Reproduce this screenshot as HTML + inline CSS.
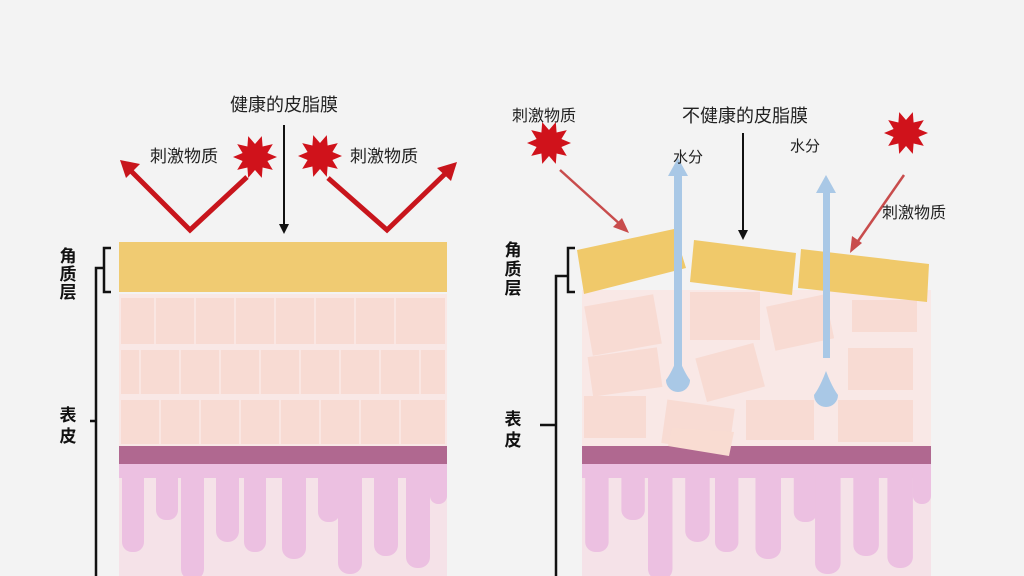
<!DOCTYPE html>
<html><head><meta charset="utf-8"><style>
html,body{margin:0;padding:0;background:#f3f3f3;}
svg{display:block;}
text{font-family:"Liberation Sans","Noto Sans CJK SC",sans-serif;}
</style></head><body>
<svg width="1024" height="576" viewBox="0 0 1024 576" xmlns="http://www.w3.org/2000/svg">
<defs>
<polygon id="star" points="22,0 12.4,4 17.8,12.9 7.6,10.5 6.8,20.9 0,13 -6.8,20.9 -7.6,10.5 -17.8,12.9 -12.4,4 -22,0 -12.4,-4 -17.8,-12.9 -7.6,-10.5 -6.8,-20.9 0,-13 6.8,-20.9 7.6,-10.5 17.8,-12.9 12.4,-4" fill="#d0121b"/>
<g id="derm">
<rect x="119" y="464" width="328" height="112" fill="#f5e2e8"/>
<rect x="119" y="464" width="328" height="14" fill="#ecc0e1"/>
<g fill="#ecc0e1">
<rect x="122" y="464" width="22" height="88" rx="10"/>
<rect x="156" y="464" width="22" height="56" rx="10"/>
<rect x="181" y="464" width="23" height="116" rx="11"/>
<rect x="216" y="464" width="23" height="78" rx="11"/>
<rect x="244" y="464" width="22" height="88" rx="10"/>
<rect x="282" y="464" width="24" height="95" rx="11"/>
<rect x="318" y="464" width="22" height="58" rx="10"/>
<rect x="338" y="464" width="24" height="110" rx="11"/>
<rect x="374" y="464" width="24" height="92" rx="11"/>
<rect x="406" y="464" width="24" height="104" rx="11"/>
<rect x="430" y="464" width="17" height="40" rx="8"/>
</g>
<rect x="119" y="446" width="328" height="18" fill="#b06890"/>
</g>
</defs>

<!-- LEFT PANEL -->
<rect x="119" y="294" width="328" height="152" fill="#f9e8e6"/>
<g fill="#f8dbd3">
<rect x="121" y="298" width="324" height="46"/>
<rect x="121" y="350" width="324" height="44"/>
<rect x="121" y="400" width="324" height="44"/>
</g>
<g stroke="#fae6e2" stroke-width="2">
<line x1="155" y1="298" x2="155" y2="344"/><line x1="195" y1="298" x2="195" y2="344"/><line x1="235" y1="298" x2="235" y2="344"/><line x1="275" y1="298" x2="275" y2="344"/><line x1="315" y1="298" x2="315" y2="344"/><line x1="355" y1="298" x2="355" y2="344"/><line x1="395" y1="298" x2="395" y2="344"/>
<line x1="140" y1="350" x2="140" y2="394"/><line x1="180" y1="350" x2="180" y2="394"/><line x1="220" y1="350" x2="220" y2="394"/><line x1="260" y1="350" x2="260" y2="394"/><line x1="300" y1="350" x2="300" y2="394"/><line x1="340" y1="350" x2="340" y2="394"/><line x1="380" y1="350" x2="380" y2="394"/><line x1="420" y1="350" x2="420" y2="394"/>
<line x1="160" y1="400" x2="160" y2="444"/><line x1="200" y1="400" x2="200" y2="444"/><line x1="240" y1="400" x2="240" y2="444"/><line x1="280" y1="400" x2="280" y2="444"/><line x1="320" y1="400" x2="320" y2="444"/><line x1="360" y1="400" x2="360" y2="444"/><line x1="400" y1="400" x2="400" y2="444"/>
</g>
<use href="#derm"/>
<rect x="119" y="242" width="328" height="50" fill="#f0cb72"/>

<!-- left brackets -->
<g fill="none" stroke="#111" stroke-width="2.5">
<path d="M111,248 H104 V292 H111"/>
<path d="M104,268 H96 V576"/>
<line x1="90" y1="421" x2="96" y2="421"/>
</g>
<g font-size="17" font-weight="bold" fill="#111" text-anchor="middle">
<text x="68" y="262">角</text><text x="68" y="280">质</text><text x="68" y="298">层</text>
<text x="68" y="421">表</text><text x="68" y="442">皮</text>
</g>

<!-- left top -->
<text x="284" y="111" font-size="18" fill="#222" text-anchor="middle">健康的皮脂膜</text>
<line x1="284" y1="125" x2="284" y2="226" stroke="#111" stroke-width="2"/>
<polygon points="279,224 289,224 284,234" fill="#111"/>
<g stroke="#c8151c" stroke-width="5" fill="none" stroke-linejoin="miter">
<polyline points="247,177 190,230 130,170"/>
<polyline points="328,178 387,230 447,172"/>
</g>
<polygon points="120,160 140,164 126,178" fill="#c8151c"/>
<polygon points="457,162 451,181 437,168" fill="#c8151c"/>
<use href="#star" transform="translate(255,157)"/>
<use href="#star" transform="translate(320,156)"/>
<text x="150" y="162" font-size="17" fill="#222">刺激物质</text>
<text x="350" y="162" font-size="17" fill="#222">刺激物质</text>

<!-- RIGHT PANEL -->
<rect x="582" y="290" width="349" height="156" fill="#f9e8e6"/>
<g fill="#f8dbd3">
<rect x="588" y="300" width="70" height="50" transform="rotate(-10 623 325)"/>
<rect x="690" y="292" width="70" height="48"/>
<rect x="770" y="300" width="60" height="45" transform="rotate(-12 800 322)"/>
<rect x="852" y="300" width="65" height="32"/>
<rect x="590" y="352" width="70" height="40" transform="rotate(-8 625 372)"/>
<rect x="700" y="350" width="60" height="45" transform="rotate(-15 730 372)"/>
<rect x="848" y="348" width="65" height="42"/>
<rect x="584" y="396" width="62" height="42"/>
<rect x="664" y="404" width="68" height="44" transform="rotate(8 698 426)"/>
<rect x="746" y="400" width="68" height="40"/>
<rect x="838" y="400" width="75" height="42"/>
</g>
<use href="#derm" transform="matrix(1.064,0,0,1,455.4,0)"/>
<polygon points="672,428 734,432 729,456 668,446" fill="#f9dcd2"/>
<!-- plates -->
<polygon points="577,250 674,229 686,268 584,294" fill="#f0c96a"/>
<polygon points="694,240 796,253 792,295 690,282" fill="#f0c96a"/>
<polygon points="801,249 929,264 927,302 798,288" fill="#f0c96a"/>

<!-- water -->
<g fill="#a9c8e6">
<rect x="674" y="170" width="8" height="200"/>
<polygon points="668,176 688,176 678,158"/>
<path d="M678,356 Q672,372 666,380 A12,12 0 1 0 690,380 Q684,372 678,356Z"/>
<rect x="823" y="190" width="7" height="168"/>
<polygon points="816,193 836,193 826,175"/>
<path d="M826,371 Q820,387 814,395 A12,12 0 1 0 838,395 Q832,387 826,371Z"/>
</g>
<text x="688" y="162" font-size="15" fill="#222" text-anchor="middle">水分</text>
<text x="805" y="151" font-size="15" fill="#222" text-anchor="middle">水分</text>

<text x="745" y="122" font-size="18" fill="#222" text-anchor="middle">不健康的皮脂膜</text>
<line x1="743" y1="133" x2="743" y2="232" stroke="#111" stroke-width="2"/>
<polygon points="738,230 748,230 743,240" fill="#111"/>

<use href="#star" transform="translate(549,143)"/>
<use href="#star" transform="translate(906,133)"/>
<g stroke="#c84c4c" stroke-width="2.5">
<line x1="560" y1="170" x2="622" y2="226"/>
<line x1="904" y1="175" x2="856" y2="244"/>
</g>
<polygon points="629,233 613,227 622,218" fill="#c84c4c"/>
<polygon points="850,253 852,236 862,243" fill="#c84c4c"/>
<text x="512" y="121" font-size="16" fill="#222">刺激物质</text>
<text x="882" y="218" font-size="16" fill="#222">刺激物质</text>

<!-- right brackets -->
<g fill="none" stroke="#111" stroke-width="2.5">
<path d="M575,248 H568 V292 H575"/>
<path d="M568,276 H556 V576"/>
<line x1="540" y1="425" x2="556" y2="425"/>
</g>
<g font-size="17" font-weight="bold" fill="#111" text-anchor="middle">
<text x="513" y="256">角</text><text x="513" y="275">质</text><text x="513" y="294">层</text>
<text x="513" y="425">表</text><text x="513" y="446">皮</text>
</g>
</svg>
</body></html>
